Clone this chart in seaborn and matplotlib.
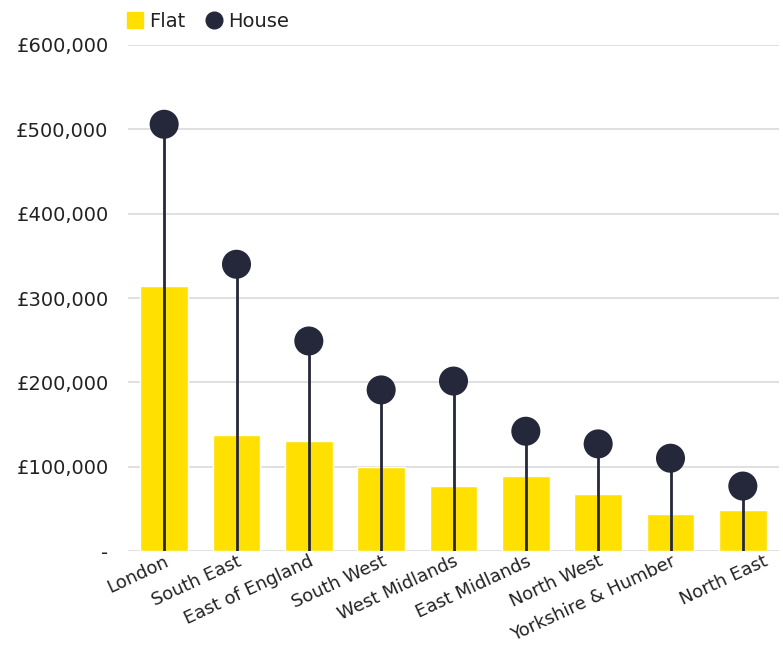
import matplotlib
matplotlib.use("Agg")
import matplotlib.pyplot as plt
import matplotlib.transforms as mtransforms
import seaborn as sns
import pandas as pd
from matplotlib.lines import Line2D
from matplotlib.ticker import FuncFormatter

regions = ["London", "South East", "East of England", "South West", "West Midlands",
           "East Midlands", "North West", "Yorkshire & Humber", "North East"]
flat = [314000, 137500, 130000, 100000, 77000, 89000, 67500, 44000, 48500]
house = [506000, 340000, 249000, 191000, 201500, 142000, 127000, 110000, 77000]
yticks = [0, 100000, 200000, 300000, 400000, 500000, 600000]

YELLOW = "#FFE000"
DARK = "#25273B"
TEXT = "#222222"

sns.set_theme(style="white")
plt.rcParams["font.family"] = ["DejaVu Sans"]

df = pd.DataFrame({"region": regions, "flat": flat, "house": house})

fig = plt.figure(figsize=(7.83, 6.52), dpi=100)
ax = fig.add_axes([128 / 783, 101 / 652, 651 / 783, 506 / 652])

sns.barplot(data=df, x="region", y="flat", color=YELLOW, width=0.66,
            saturation=1, ax=ax, zorder=2)
pos = list(range(len(regions)))
ax.vlines(pos, 0, df["house"], color=DARK, linewidth=2, zorder=3)
ax.scatter(pos, df["house"], s=29 ** 2 * 0.52, color=DARK, linewidths=0,
           edgecolors="none", zorder=4)

ax.set_ylim(0, 600000)
ax.set_xlim(-0.5, len(regions) - 0.5)
ax.set_yticks(yticks)
ax.yaxis.set_major_formatter(FuncFormatter(lambda v, p: "-" if v == 0 else f"£{v:,.0f}"))
ax.grid(axis="y", color="#dddddd", linewidth=1.3, zorder=0)
ax.set_axisbelow(True)
for s in ax.spines.values():
    s.set_visible(False)
ax.set_xlabel("")
ax.set_ylabel("")
ax.tick_params(axis="y", length=0, pad=14, labelsize=14, labelcolor=TEXT)
ax.tick_params(axis="x", length=0, pad=1, labelsize=13, labelcolor=TEXT)
labels = ax.get_xticklabels()
for lab in labels:
    lab.set_rotation(25)
    lab.set_ha("right")
    lab.set_rotation_mode("anchor")
labels[-1].set_transform(labels[-1].get_transform() +
                         mtransforms.ScaledTranslation(20 / 100, 0, fig.dpi_scale_trans))

handles = [
    Line2D([], [], marker="s", linestyle="none", markersize=12, color=YELLOW, label="Flat"),
    Line2D([], [], marker="o", linestyle="none", markersize=12, color=DARK, label="House"),
]
leg = fig.legend(handles=handles, loc="upper left", bbox_to_anchor=(114 / 783, 1.0),
                 ncol=2, frameon=False, fontsize=14, handletextpad=0.2,
                 columnspacing=1.0, handlelength=1.0, borderaxespad=0.2)
for t in leg.get_texts():
    t.set_color(TEXT)

fig.savefig("out.png", dpi=100)
